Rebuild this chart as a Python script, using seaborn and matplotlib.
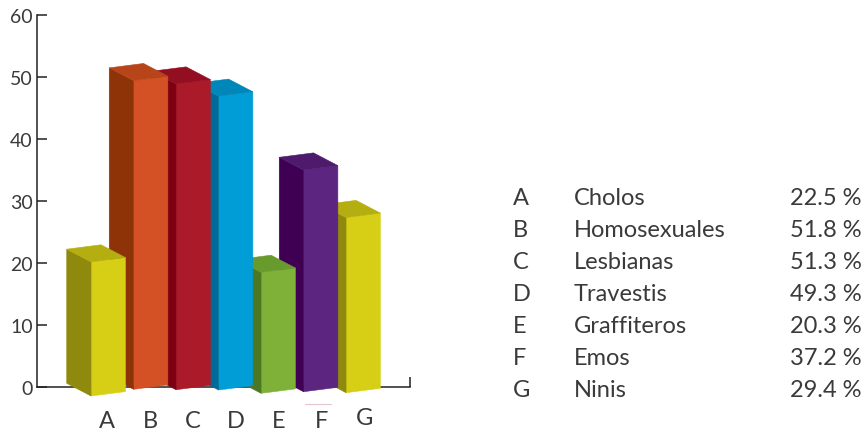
import seaborn as sns
import matplotlib.pyplot as plt
from matplotlib.lines import Line2D
from matplotlib.transforms import Affine2D

# data
letters = ["A", "B", "C", "D", "E", "F", "G"]
groups = ["Cholos", "Homosexuales", "Lesbianas", "Travestis", "Graffiteros", "Emos", "Ninis"]
percent = [22.5, 51.8, 51.3, 49.3, 20.3, 37.2, 29.4]
y_ticks = [0, 10, 20, 30, 40, 50, 60]

# colours of each box: front, left side, top
front_colors = ["#D6CF15", "#D45125", "#AB1A29", "#009DD6", "#7FB139", "#5B2580", "#D6CF15"]
side_colors = ["#8F8A0E", "#8E3207", "#7D0013", "#006B99", "#4C7723", "#3F0053", "#8F8A0E"]
top_colors = ["#B5AE10", "#B84419", "#930E20", "#0087BA", "#699A2D", "#4E1B6C", "#B5AE10"]

# the boxes do not sit on one line in the drawing, pixel row of each front corner
floor_px = [396, 389.3, 389.7, 390, 393.3, 391.7, 392.7]

W, H = 864, 431
X_STEP = 42.5      # px between boxes
LABEL_STEP = 42.85 # px between the letters below the boxes
Y_SCALE = 5.96     # px per percent point for the boxes
X_FIRST = 108.2    # px centre of box A
Y_ZERO = 390       # px row of zero in the box axes
DEPTH_X = -24.3    # px
DEPTH_Y = 12.7     # px
RISE = 4.4         # px the front face climbs from left to right
NUDGE = 1          # px, rows come out one pixel high otherwise
TEXT = "#3a3a3a"

sns.set_style("white")
plt.rcParams["font.family"] = ["Lato", "DejaVu Sans"]

fig = plt.figure(figsize=(W / 100, H / 100), dpi=100)

# axis lines with their own scale, behind the boxes
ax_scale = fig.add_axes([37 / W, 1 - (387 + NUDGE) / H, (410 - 37) / W, (387 - 15) / H])
ax_scale.set_ylim(0, 60)
ax_scale.set_xlim(0, 1)
ax_scale.set_yticks(y_ticks)
ax_scale.set_xticks([1])
ax_scale.set_xticklabels([""])
ax_scale.tick_params(axis="both", direction="in", length=7, width=1.1, color="#222222",
                     labelsize=14, labelcolor=TEXT, left=True, bottom=True, pad=3)
ax_scale.patch.set_visible(False)
sns.despine(ax=ax_scale)
for side in ["left", "bottom"]:
    ax_scale.spines[side].set_color("#222222")
    ax_scale.spines[side].set_linewidth(1.1)

# boxes
ax = fig.add_axes([0, -NUDGE / H, 1, 1], zorder=2)
sns.barplot(x=letters, y=percent, hue=letters, palette=front_colors, saturation=1,
            width=34.3 / X_STEP, legend=False, ax=ax)
ax.set_xlim(-X_FIRST / X_STEP, (W - X_FIRST) / X_STEP)
ax.set_ylim(-(H - Y_ZERO) / Y_SCALE, Y_ZERO / Y_SCALE)
ax.axis("off")

dx = DEPTH_X / X_STEP
dy = DEPTH_Y / Y_SCALE
for i, bar in enumerate(ax.patches):
    x0 = bar.get_x()
    x1 = x0 + bar.get_width()
    base = (Y_ZERO - floor_px[i]) / Y_SCALE
    top = base + bar.get_height()
    rise = RISE / Y_SCALE
    order = 10 * (len(letters) - i)

    # lean the front face a little, the way the 3d drawing does
    slope = rise / (x1 - x0)
    lean = Affine2D.from_values(1, slope, 0, 1, 0, base - slope * x0)
    bar.set_transform(lean + ax.transData)
    bar.set_zorder(order)
    bar.set_edgecolor(front_colors[i])
    bar.set_linewidth(0.4)

    ax.fill([x0, x0, x0 + dx, x0 + dx], [base, top, top + dy, base + dy],
            color=side_colors[i], lw=0.4, zorder=order)
    ax.fill([x0, x1, x1 + dx, x0 + dx], [top, top + rise, top + rise + dy, top + dy],
            color=top_colors[i], lw=0.4, zorder=order)

# letters under the boxes, G sits a bit higher in the original
for i, letter in enumerate(letters):
    base_row = 425 if letter == "G" else 427.7
    fig.text((X_FIRST - 1 + LABEL_STEP * i) / W, 1 - base_row / H, letter, ha="center", va="baseline",
             fontsize=17, color=TEXT)

# faint stray line above F
fig.add_artist(Line2D([305 / W, 331 / W], [1 - 405.3 / H, 1 - 405.3 / H], color="#E8C4CC", lw=0.8))

# table on the right
for i, letter in enumerate(letters):
    row = 1 - (205 + 32 * i) / H
    fig.text(513 / W, row, letter, va="baseline", fontsize=17, color=TEXT)
    fig.text(574 / W, row, groups[i], va="baseline", fontsize=17, color=TEXT)
    fig.text(790 / W, row, f"{percent[i]} %", va="baseline", fontsize=17, color=TEXT)

fig.savefig("out.png", dpi=100)
